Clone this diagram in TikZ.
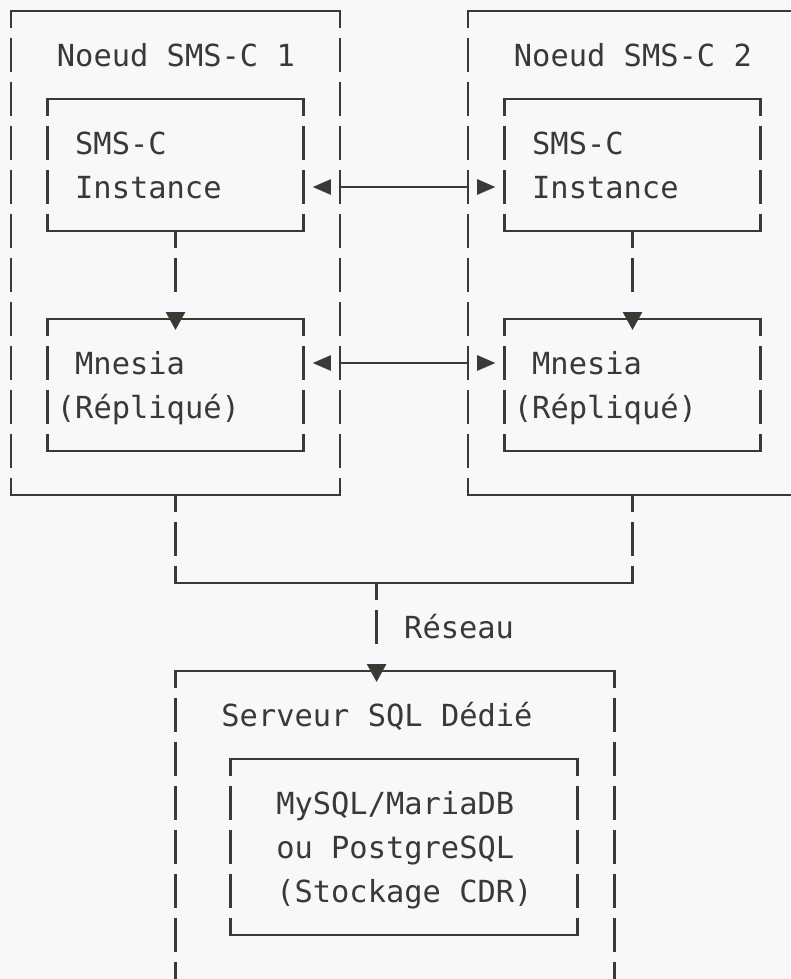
\documentclass[tikz,border=0pt]{standalone}
\usepackage{fontspec}
\setmonofont{DejaVu Sans Mono}
\usepackage{xcolor}
\usetikzlibrary{fit,arrows.meta}
\definecolor{ink}{HTML}{393A34}
\definecolor{paper}{HTML}{F6F8FA}

\begin{document}
\begin{tikzpicture}[x=18.28pt, y=-44pt,
        frame/.style={inner sep=0pt, outer sep=0pt},
        hl/.style={ink, line width=2.7pt, line cap=rect},
        vl/.style={ink, line width=2.7pt, dash pattern=on 34pt off 10pt, dash phase=17pt},
        drop/.style={ink, line width=2.7pt, dash pattern=on 17pt off 10pt on 34pt off 60pt, -{Triangle[width=19pt,length=18pt]}},
        sync/.style={ink, line width=2.7pt, dash pattern=on 0pt off 9.14pt on 127.96pt off 40pt,
            {Triangle[width=15pt,length=18.28pt]}-{Triangle[width=15pt,length=18.28pt]}},
        lbl/.style={anchor=base west, inner sep=0pt, text=ink, yshift=-11.3pt,
            font=\ttfamily\fontsize{30.4pt}{44pt}\selectfont}]
            \fill[paper] (-11pt,11pt) rectangle (779pt,-968pt);
            \useasboundingbox (-11pt,11pt) rectangle (779pt,-968pt);
            \node[frame, fit={(0,0) (18,11)}] (n1) {};
            \node[frame, fit={(25,0) (43,11)}] (n2) {};
            \node[frame, fit={(2,2) (16,5)}] (inst1) {};
            \node[frame, fit={(27,2) (41,5)}] (inst2) {};
            \node[frame, fit={(2,7) (16,10)}] (mne1) {};
            \node[frame, fit={(27,7) (41,10)}] (mne2) {};
            \node[frame, fit={(9,15) (33,24)}] (srv) {};
            \node[frame, fit={(12,17) (31,21)}] (db) {};
            \foreach \b in {n1,n2,inst1,inst2,mne1,mne2,srv,db} {
                \draw[hl] (\b.north west) -- (\b.north east);
                \draw[hl] (\b.south west) -- (\b.south east);
                \draw[vl] (\b.north west) -- (\b.south west);
                \draw[vl] (\b.north east) -- (\b.south east);
            }
            \node[lbl] (n1t) at (2.5,1) {Noeud SMS-C 1};
            \node[lbl] (n2t) at (27.5,1) {Noeud SMS-C 2};
            \node[lbl] (inst1a) at (3.5,3) {SMS-C};
            \node[lbl] (inst1b) at (3.5,4) {Instance};
            \node[lbl] (inst2a) at (28.5,3) {SMS-C};
            \node[lbl] (inst2b) at (28.5,4) {Instance};
            \node[lbl] (mne1a) at (3.5,8) {Mnesia};
            \node[lbl] (mne1b) at (2.5,9) {(Répliqué)};
            \node[lbl] (mne2a) at (28.5,8) {Mnesia};
            \node[lbl] (mne2b) at (27.5,9) {(Répliqué)};
            \node[lbl] (net) at (21.5,14) {Réseau};
            \node[lbl] (srvt) at (11.5,16) {Serveur SQL Dédié};
            \node[lbl] (dba) at (14.5,18) {MySQL/MariaDB};
            \node[lbl] (dbb) at (14.5,19) {ou PostgreSQL};
            \node[lbl] (dbc) at (14.5,20) {(Stockage CDR)};
            \draw[drop] (inst1.south) -- ([yshift=-11pt]mne1.north);
            \draw[drop] (inst2.south) -- ([yshift=-11pt]mne2.north);
            \draw[sync] ([xshift=9.14pt,yshift=-22pt]inst1.east) -- ([xshift=-9.14pt,yshift=-22pt]inst2.west);
            \draw[sync] ([xshift=9.14pt,yshift=22pt]mne1.east) -- ([xshift=-9.14pt,yshift=22pt]mne2.west);
            \coordinate (bus) at (20,13);
            \coordinate (dbin) at (bus |- srv.north);
            \draw[vl] (n1.south) -- (n1.south |- bus);
            \draw[vl] (n2.south) -- (n2.south |- bus);
            \draw[hl] (n1.south |- bus) -- (n2.south |- bus);
            \draw[drop] (bus) -- ([yshift=-11pt]dbin);
        \end{tikzpicture}
\end{document}
